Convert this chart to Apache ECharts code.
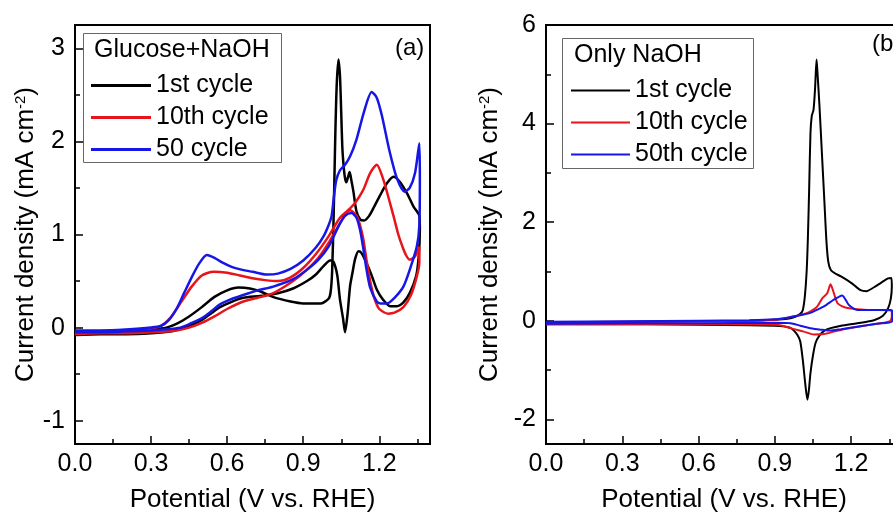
<!DOCTYPE html>
<html>
<head>
<meta charset="utf-8">
<script src="https://cdn.jsdelivr.net/npm/echarts@6/dist/echarts.min.js"></script>
<style>
html, body { margin: 0; padding: 0; background: #fff; }
#main { width: 893px; height: 512px; }
</style>
</head>
<body>
<div id="main"></div>
<script>
// tick values
var xMajor = [0, 0.3, 0.6, 0.9, 1.2];
var xMinor = [0.15, 0.45, 0.75, 1.05, 1.35];
var aYMajor = [-1, 0, 1, 2, 3];
var aYMinor = [-0.5, 0.5, 1.5, 2.5];
var bYMajor = [-2, 0, 2, 4, 6];
var bYMinor = [-1, 1, 3, 5];

// (a) Glucose+NaOH, [potential V, current mA cm-2], anodic then cathodic scan
var aCycle1 = [
  [0, -0.05], [0.1, -0.05], [0.2, -0.04], [0.3, -0.02], [0.36, 0.0], [0.4, 0.04], [0.45, 0.12],
  [0.5, 0.22], [0.55, 0.33], [0.6, 0.4], [0.644, 0.43], [0.69, 0.42], [0.73, 0.39], [0.78, 0.33],
  [0.85, 0.28], [0.9, 0.26], [0.97, 0.26], [1.0, 0.31], [1.008, 0.38], [1.014, 0.6], [1.02, 1.2],
  [1.026, 2.0], [1.032, 2.6], [1.039, 2.88], [1.045, 2.7], [1.05, 2.3], [1.054, 1.95], [1.058, 1.78],
  [1.064, 1.62], [1.07, 1.56], [1.077, 1.62], [1.083, 1.67], [1.09, 1.58], [1.098, 1.46], [1.11, 1.25],
  [1.125, 1.16], [1.14, 1.15], [1.16, 1.2], [1.18, 1.3], [1.203, 1.42], [1.23, 1.55], [1.256, 1.62],
  [1.28, 1.57], [1.31, 1.44], [1.335, 1.3], [1.358, 1.2],
  [1.36, 1.05], [1.355, 0.75], [1.345, 0.55], [1.32, 0.37], [1.295, 0.27], [1.27, 0.23], [1.243, 0.23],
  [1.215, 0.3], [1.19, 0.41], [1.17, 0.56], [1.15, 0.69], [1.13, 0.8], [1.118, 0.82], [1.105, 0.74],
  [1.095, 0.6], [1.085, 0.45], [1.075, 0.15], [1.065, -0.05], [1.057, 0.1], [1.045, 0.3], [1.035, 0.55],
  [1.026, 0.66], [1.015, 0.72], [1.006, 0.72], [0.98, 0.66], [0.95, 0.57], [0.915, 0.5], [0.86, 0.42],
  [0.8, 0.37], [0.73, 0.34], [0.664, 0.32], [0.62, 0.28], [0.572, 0.22], [0.54, 0.16], [0.505, 0.09],
  [0.47, 0.04], [0.43, 0.0], [0.38, -0.04], [0.3, -0.06], [0.2, -0.07], [0.1, -0.07], [0, -0.08]
];
var aCycle10 = [
  [0, -0.04], [0.1, -0.04], [0.2, -0.03], [0.3, -0.01], [0.34, 0.02], [0.38, 0.12], [0.42, 0.28],
  [0.46, 0.44], [0.5, 0.56], [0.546, 0.6], [0.6, 0.59], [0.65, 0.56], [0.7, 0.53], [0.75, 0.51],
  [0.8, 0.5], [0.85, 0.54], [0.9, 0.64], [0.95, 0.79], [1.0, 0.98], [1.045, 1.18], [1.085, 1.28],
  [1.11, 1.36], [1.137, 1.48], [1.164, 1.66], [1.19, 1.75], [1.216, 1.59], [1.236, 1.4], [1.256, 1.2],
  [1.275, 1.0], [1.29, 0.88], [1.305, 0.78], [1.32, 0.73], [1.34, 0.76], [1.358, 0.87],
  [1.358, 0.7], [1.348, 0.55], [1.325, 0.35], [1.295, 0.22], [1.26, 0.16], [1.235, 0.15], [1.2, 0.2],
  [1.18, 0.32], [1.164, 0.5], [1.15, 0.72], [1.137, 0.95], [1.124, 1.1], [1.111, 1.2], [1.085, 1.26],
  [1.045, 1.12], [1.0, 0.91], [0.96, 0.75], [0.914, 0.62], [0.86, 0.5], [0.782, 0.37], [0.72, 0.32],
  [0.664, 0.28], [0.6, 0.2], [0.55, 0.12], [0.5, 0.05], [0.45, 0.0], [0.4, -0.03], [0.3, -0.05],
  [0.2, -0.06], [0.1, -0.06], [0, -0.07]
];
var aCycle50 = [
  [0, -0.03], [0.1, -0.03], [0.2, -0.02], [0.3, 0.0], [0.34, 0.02], [0.37, 0.08], [0.4, 0.2],
  [0.43, 0.37], [0.46, 0.54], [0.49, 0.69], [0.52, 0.78], [0.55, 0.75], [0.58, 0.7], [0.62, 0.65],
  [0.66, 0.62], [0.7, 0.6], [0.756, 0.57], [0.8, 0.58], [0.85, 0.63], [0.9, 0.72], [0.95, 0.86],
  [0.98, 0.98], [1.0, 1.1], [1.012, 1.2], [1.02, 1.38], [1.03, 1.58], [1.045, 1.69], [1.065, 1.75],
  [1.085, 1.84], [1.11, 2.02], [1.14, 2.32], [1.17, 2.53], [1.19, 2.47], [1.21, 2.28], [1.24, 1.9],
  [1.27, 1.6], [1.3, 1.46], [1.32, 1.5], [1.341, 1.66], [1.358, 1.98],
  [1.36, 1.6], [1.358, 1.1], [1.348, 0.87], [1.32, 0.62], [1.295, 0.44], [1.26, 0.32], [1.23, 0.26],
  [1.205, 0.26], [1.19, 0.28], [1.164, 0.43], [1.15, 0.62], [1.137, 0.85], [1.124, 1.05], [1.11, 1.18],
  [1.09, 1.23], [1.065, 1.2], [1.045, 1.12], [1.0, 0.87], [0.96, 0.73], [0.914, 0.62], [0.86, 0.52],
  [0.782, 0.44], [0.72, 0.4], [0.664, 0.35], [0.62, 0.31], [0.572, 0.25], [0.54, 0.18], [0.506, 0.11],
  [0.46, 0.05], [0.415, 0.0], [0.35, -0.02], [0.3, -0.03], [0.2, -0.04], [0.1, -0.05], [0, -0.05]
];

// (b) Only NaOH
var bCycle1 = [
  [0, -0.04], [0.2, -0.03], [0.4, -0.02], [0.6, -0.01], [0.8, 0.0], [0.9, 0.02], [0.95, 0.04],
  [0.98, 0.08], [1.0, 0.14], [1.01, 0.22], [1.018, 0.5], [1.025, 1.0], [1.03, 1.7], [1.035, 2.7],
  [1.04, 3.8], [1.045, 4.15], [1.052, 4.28], [1.058, 4.7], [1.064, 5.3], [1.068, 5.0], [1.075, 4.4],
  [1.085, 3.4], [1.095, 2.4], [1.103, 1.6], [1.11, 1.2], [1.12, 1.03], [1.14, 0.95], [1.16, 0.9],
  [1.2, 0.77], [1.237, 0.62], [1.26, 0.6], [1.29, 0.68], [1.32, 0.78], [1.345, 0.86], [1.358, 0.87],
  [1.36, 0.7], [1.356, 0.45], [1.345, 0.25], [1.325, 0.1], [1.29, 0.01], [1.224, -0.05], [1.16, -0.1],
  [1.119, -0.15], [1.095, -0.2], [1.075, -0.3], [1.06, -0.45], [1.05, -0.7], [1.04, -1.06],
  [1.034, -1.4], [1.028, -1.6], [1.02, -1.3], [1.01, -0.8], [1.0, -0.42], [0.99, -0.3], [0.975, -0.2],
  [0.96, -0.14], [0.93, -0.11], [0.9, -0.1], [0.8, -0.09], [0.6, -0.08], [0.4, -0.07], [0.2, -0.07],
  [0, -0.07]
];
var bCycle10 = [
  [0, -0.03], [0.3, -0.02], [0.6, -0.01], [0.8, 0.0], [0.9, 0.02], [0.962, 0.075], [1.0, 0.12],
  [1.028, 0.16], [1.05, 0.22], [1.067, 0.29], [1.087, 0.46], [1.106, 0.56], [1.119, 0.74],
  [1.132, 0.56], [1.146, 0.36], [1.165, 0.29], [1.185, 0.26], [1.264, 0.22], [1.356, 0.21],
  [1.36, 0.1], [1.355, 0.0], [1.33, -0.04], [1.25, -0.1], [1.18, -0.16], [1.132, -0.22],
  [1.093, -0.27], [1.054, -0.28], [1.014, -0.22], [0.962, -0.15], [0.93, -0.1], [0.9, -0.08],
  [0.6, -0.07], [0.3, -0.07], [0, -0.07]
];
var bCycle50 = [
  [0, -0.02], [0.3, -0.01], [0.6, 0.0], [0.8, 0.01], [0.9, 0.03], [0.962, 0.075], [1.0, 0.11],
  [1.04, 0.16], [1.065, 0.22], [1.093, 0.29], [1.132, 0.43], [1.15, 0.48], [1.165, 0.51],
  [1.178, 0.43], [1.191, 0.32], [1.224, 0.22], [1.3, 0.22], [1.356, 0.22], [1.362, 0.2],
  [1.362, -0.01], [1.3, -0.06], [1.224, -0.12], [1.16, -0.17], [1.119, -0.2], [1.08, -0.18],
  [1.04, -0.15], [1.0, -0.1], [0.962, -0.05], [0.9, -0.04], [0.6, -0.05], [0.3, -0.05], [0, -0.06]
];

var FONT = 'Liberation Sans, Arial, sans-serif';
var BLACK = '#000000', RED = '#e8141b', BLUE = '#1616e6';
var PANEL_A = { left: 75, top: 25, width: 355, height: 419 };
var PANEL_B = { left: 546, top: 25, width: 356, height: 419 };

function gridAt(p, frame) {
    return { left: p.left, top: p.top, width: p.width, height: p.height,
        outerBoundsMode: 'none', containLabel: false,
        show: frame, borderColor: '#000', borderWidth: 2 };
}

function xMain(grid) {
    return {
        gridIndex: grid, type: 'value', min: 0, max: 1.4, position: 'bottom',
        name: 'Potential (V vs. RHE)', nameLocation: 'middle', nameGap: 43,
        nameTextStyle: { fontSize: 26, color: '#000', fontFamily: FONT },
        axisLine: { onZero: false, lineStyle: { color: '#000', width: 2 } },
        axisTick: { inside: true, length: 8, customValues: xMajor, lineStyle: { color: '#000', width: 1.5 } },
        axisLabel: { customValues: xMajor, fontSize: 25, color: '#000', fontFamily: FONT, margin: 8,
            formatter: function (v) { return v.toFixed(1); } },
        splitLine: { show: false }
    };
}

function yMain(grid, min, max, major, nameGap) {
    return {
        gridIndex: grid, type: 'value', min: min, max: max, position: 'left',
        name: 'Current density (mA cm{sup|-2})', nameLocation: 'middle', nameGap: nameGap,
        nameTextStyle: { fontSize: 26, color: '#000', fontFamily: FONT,
            rich: { sup: { fontSize: 15, fontFamily: FONT, color: '#000', verticalAlign: 'top' } } },
        axisLine: { onZero: false, lineStyle: { color: '#000', width: 2 } },
        axisTick: { inside: true, length: 8, customValues: major, lineStyle: { color: '#000', width: 1.5 } },
        axisLabel: { customValues: major, fontSize: 25, color: '#000', fontFamily: FONT, margin: 10 },
        splitLine: { show: false }
    };
}

// minor ticks live on an overlaid grid with the same scale
function minorAxis(grid, min, max, values, pos) {
    return {
        gridIndex: grid, type: 'value', min: min, max: max, position: pos,
        axisLine: { show: false, onZero: false },
        axisTick: { inside: true, length: 5, customValues: values, lineStyle: { color: '#000', width: 1.5 } },
        axisLabel: { show: false },
        splitLine: { show: false }
    };
}

function cv(name, data, color, width, idx) {
    return {
        name: name, type: 'line', data: data, xAxisIndex: idx, yAxisIndex: idx,
        color: color, showSymbol: false, symbol: 'none', smooth: 0.25,
        lineStyle: { color: color, width: width }, animation: false
    };
}

var chart = echarts.init(document.getElementById('main'), null, { renderer: 'canvas' });
chart.setOption({
    animation: false,
    textStyle: { fontFamily: FONT },
    grid: [gridAt(PANEL_A, true), gridAt(PANEL_B, true), gridAt(PANEL_A, false), gridAt(PANEL_B, false)],
    xAxis: [
        xMain(0), xMain(1),
        minorAxis(2, 0, 1.4, xMinor, 'bottom'), minorAxis(3, 0, 1.4, xMinor, 'bottom')
    ],
    yAxis: [
        yMain(0, -1.25, 3.25, aYMajor, 33), yMain(1, -2.5, 6, bYMajor, 43),
        minorAxis(2, -1.25, 3.25, aYMinor, 'left'), minorAxis(3, -2.5, 6, bYMinor, 'left')
    ],
    legend: [{
        data: ['1st cycle', '10th cycle', '50 cycle'],
        orient: 'vertical', left: 86, top: 68, itemWidth: 60, itemHeight: 3, itemGap: 7,
        icon: 'rect', selectedMode: false, itemStyle: { borderWidth: 0 },
        textStyle: { fontSize: 25, color: '#000', fontFamily: FONT }
    }, {
        data: ['1st cycle', '10th cycle', '50th cycle'],
        orient: 'vertical', left: 566, top: 73, itemWidth: 59, itemHeight: 2, itemGap: 7,
        icon: 'rect', selectedMode: false, itemStyle: { borderWidth: 0 },
        textStyle: { fontSize: 25, color: '#000', fontFamily: FONT }
    }],
    graphic: [
        { type: 'rect', shape: { x: 83.5, y: 33.5, width: 198, height: 129 }, style: { fill: 'none', stroke: '#666', lineWidth: 1 } },
        { type: 'text', x: 94, y: 50, style: { text: 'Glucose+NaOH', fontSize: 25, fontFamily: FONT, fill: '#000', verticalAlign: 'middle' } },
        { type: 'text', x: 395, y: 48, style: { text: '(a)', fontSize: 24, fontFamily: FONT, fill: '#000', verticalAlign: 'middle' } },
        { type: 'rect', shape: { x: 562.5, y: 38.5, width: 191, height: 130 }, style: { fill: 'none', stroke: '#666', lineWidth: 1 } },
        { type: 'text', x: 574, y: 55, style: { text: 'Only NaOH', fontSize: 25, fontFamily: FONT, fill: '#000', verticalAlign: 'middle' } },
        { type: 'text', x: 872, y: 44, style: { text: '(b)', fontSize: 24, fontFamily: FONT, fill: '#000', verticalAlign: 'middle' } }
    ],
    series: [
        cv('1st cycle', aCycle1, BLACK, 2.5, 0),
        cv('10th cycle', aCycle10, RED, 2.5, 0),
        cv('50 cycle', aCycle50, BLUE, 2.5, 0),
        cv('1st cycle', bCycle1, BLACK, 2, 1),
        cv('10th cycle', bCycle10, RED, 2, 1),
        cv('50th cycle', bCycle50, BLUE, 2, 1)
    ]
});
</script>
</body>
</html>
